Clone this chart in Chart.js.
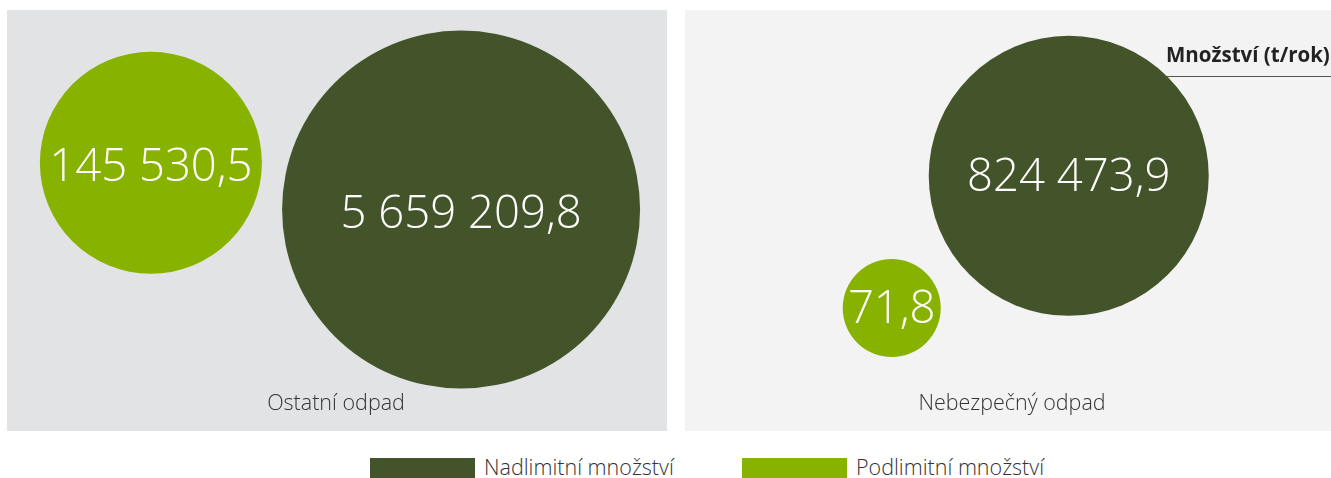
<!DOCTYPE html>
<html>
<head>
<meta charset="utf-8">
<script src="https://cdn.jsdelivr.net/npm/chart.js@4"></script>
<style>
  body { margin: 0; background: #fff; font-family: "Open Sans", sans-serif; }
  #wrap { position: relative; width: 1331px; height: 478px; overflow: hidden; }
  .panel { position: absolute; top: 10px; height: 421px; }
  #pLeft { left: 7px; width: 660px; background: #e2e3e5; }
  #pRight { left: 685px; width: 646px; background: #f3f3f3; }
  #unit { position: absolute; left: 1166px; top: 40px; width: 165px; height: 36px;
          border-bottom: 1.5px solid #555; font-weight: 700; font-size: 20.5px; color: #222;
          white-space: nowrap; }
  .leg { position: absolute; top: 458px; height: 20px; width: 105px; }
  .legtxt { position: absolute; top: 452px; font-size: 21.5px; font-weight: 300; color: #333; white-space: nowrap; }
</style>
</head>
<body>
<div id="wrap">
  <div class="panel" id="pLeft"><canvas id="chartLeft"></canvas></div>
  <div class="panel" id="pRight"><canvas id="chartRight"></canvas></div>
  <div id="unit"></div>
  <div class="leg" id="legBox1" style="left:370px"></div>
  <div class="legtxt" id="legTxt1" style="left:484px"></div>
  <div class="leg" id="legBox2" style="left:742px"></div>
  <div class="legtxt" id="legTxt2" style="left:856px"></div>
</div>
<script>
// data
const categories = ['Ostatní odpad', 'Nebezpečný odpad'];
const seriesNames = ['Nadlimitní množství', 'Podlimitní množství'];
const nadlimitni = [5659209.8, 824473.9];
const podlimitni = [145530.5, 71.8];
const unitLabel = 'Množství (t/rok)';

// bubble placement inside each panel (0-100 units) and bubble size
const nadX = [68.8, 59.4];
const nadY = [52.6, 60.6];
const nadR = [179, 140];
const podX = [21.8, 32.0];
const podY = [63.7, 29.2];
const podR = [111, 49];

const colors = ['#44542a', '#88b200'];

document.getElementById('unit').textContent = unitLabel;
document.getElementById('legBox1').style.background = colors[0];
document.getElementById('legBox2').style.background = colors[1];
document.getElementById('legTxt1').textContent = seriesNames[0];
document.getElementById('legTxt2').textContent = seriesNames[1];

function fmt(v) {
    const parts = v.toFixed(1).split('.');
    const intPart = parts[0].replace(/\B(?=(\d{3})+(?!\d))/g, ' ');
    return intPart + ',' + parts[1];
}

const bubbleLabels = {
    id: 'bubbleLabels',
    afterDatasetsDraw(chart, args, opts) {
        const ctx = chart.ctx;
        ctx.save();
        ctx.fillStyle = '#fff';
        ctx.font = '300 45.5px "Open Sans", sans-serif';
        ctx.textAlign = 'center';
        ctx.textBaseline = 'middle';
        chart.data.datasets.forEach((ds, i) => {
            const meta = chart.getDatasetMeta(i);
            meta.data.forEach((el, j) => {
                ctx.fillText(fmt(ds.data[j].v), el.x, el.y + opts.dy);
            });
        });
        // category label under the bubbles
        ctx.fillStyle = '#333';
        ctx.font = '300 21.5px "Open Sans", sans-serif';
        ctx.fillText(opts.category, chart.chartArea.left + chart.chartArea.width / 2 + opts.shift, chart.chartArea.bottom - 27);
        ctx.restore();
    }
};

function makeChart(id, k, shift, dy) {
    return new Chart(document.getElementById(id), {
        type: 'bubble',
        data: {
            datasets: [
                {
                    label: seriesNames[0],
                    data: [{ x: nadX[k], y: nadY[k], r: nadR[k], v: nadlimitni[k] }],
                    backgroundColor: colors[0],
                    borderWidth: 0,
                    clip: false
                },
                {
                    label: seriesNames[1],
                    data: [{ x: podX[k], y: podY[k], r: podR[k], v: podlimitni[k] }],
                    backgroundColor: colors[1],
                    borderWidth: 0,
                    clip: false
                }
            ]
        },
        options: {
            responsive: true,
            maintainAspectRatio: false,
            animation: false,
            events: [],
            layout: { padding: 0, autoPadding: false },
            scales: {
                x: { display: false, min: 0, max: 100 },
                y: { display: false, min: 0, max: 100 }
            },
            plugins: {
                legend: { display: false },
                tooltip: { enabled: false },
                bubbleLabels: { category: categories[k], shift: shift, dy: dy }
            }
        },
        plugins: [bubbleLabels]
    });
}

makeChart('chartLeft', 0, -1, 5);
makeChart('chartRight', 1, 4, 2);
</script>
</body>
</html>
